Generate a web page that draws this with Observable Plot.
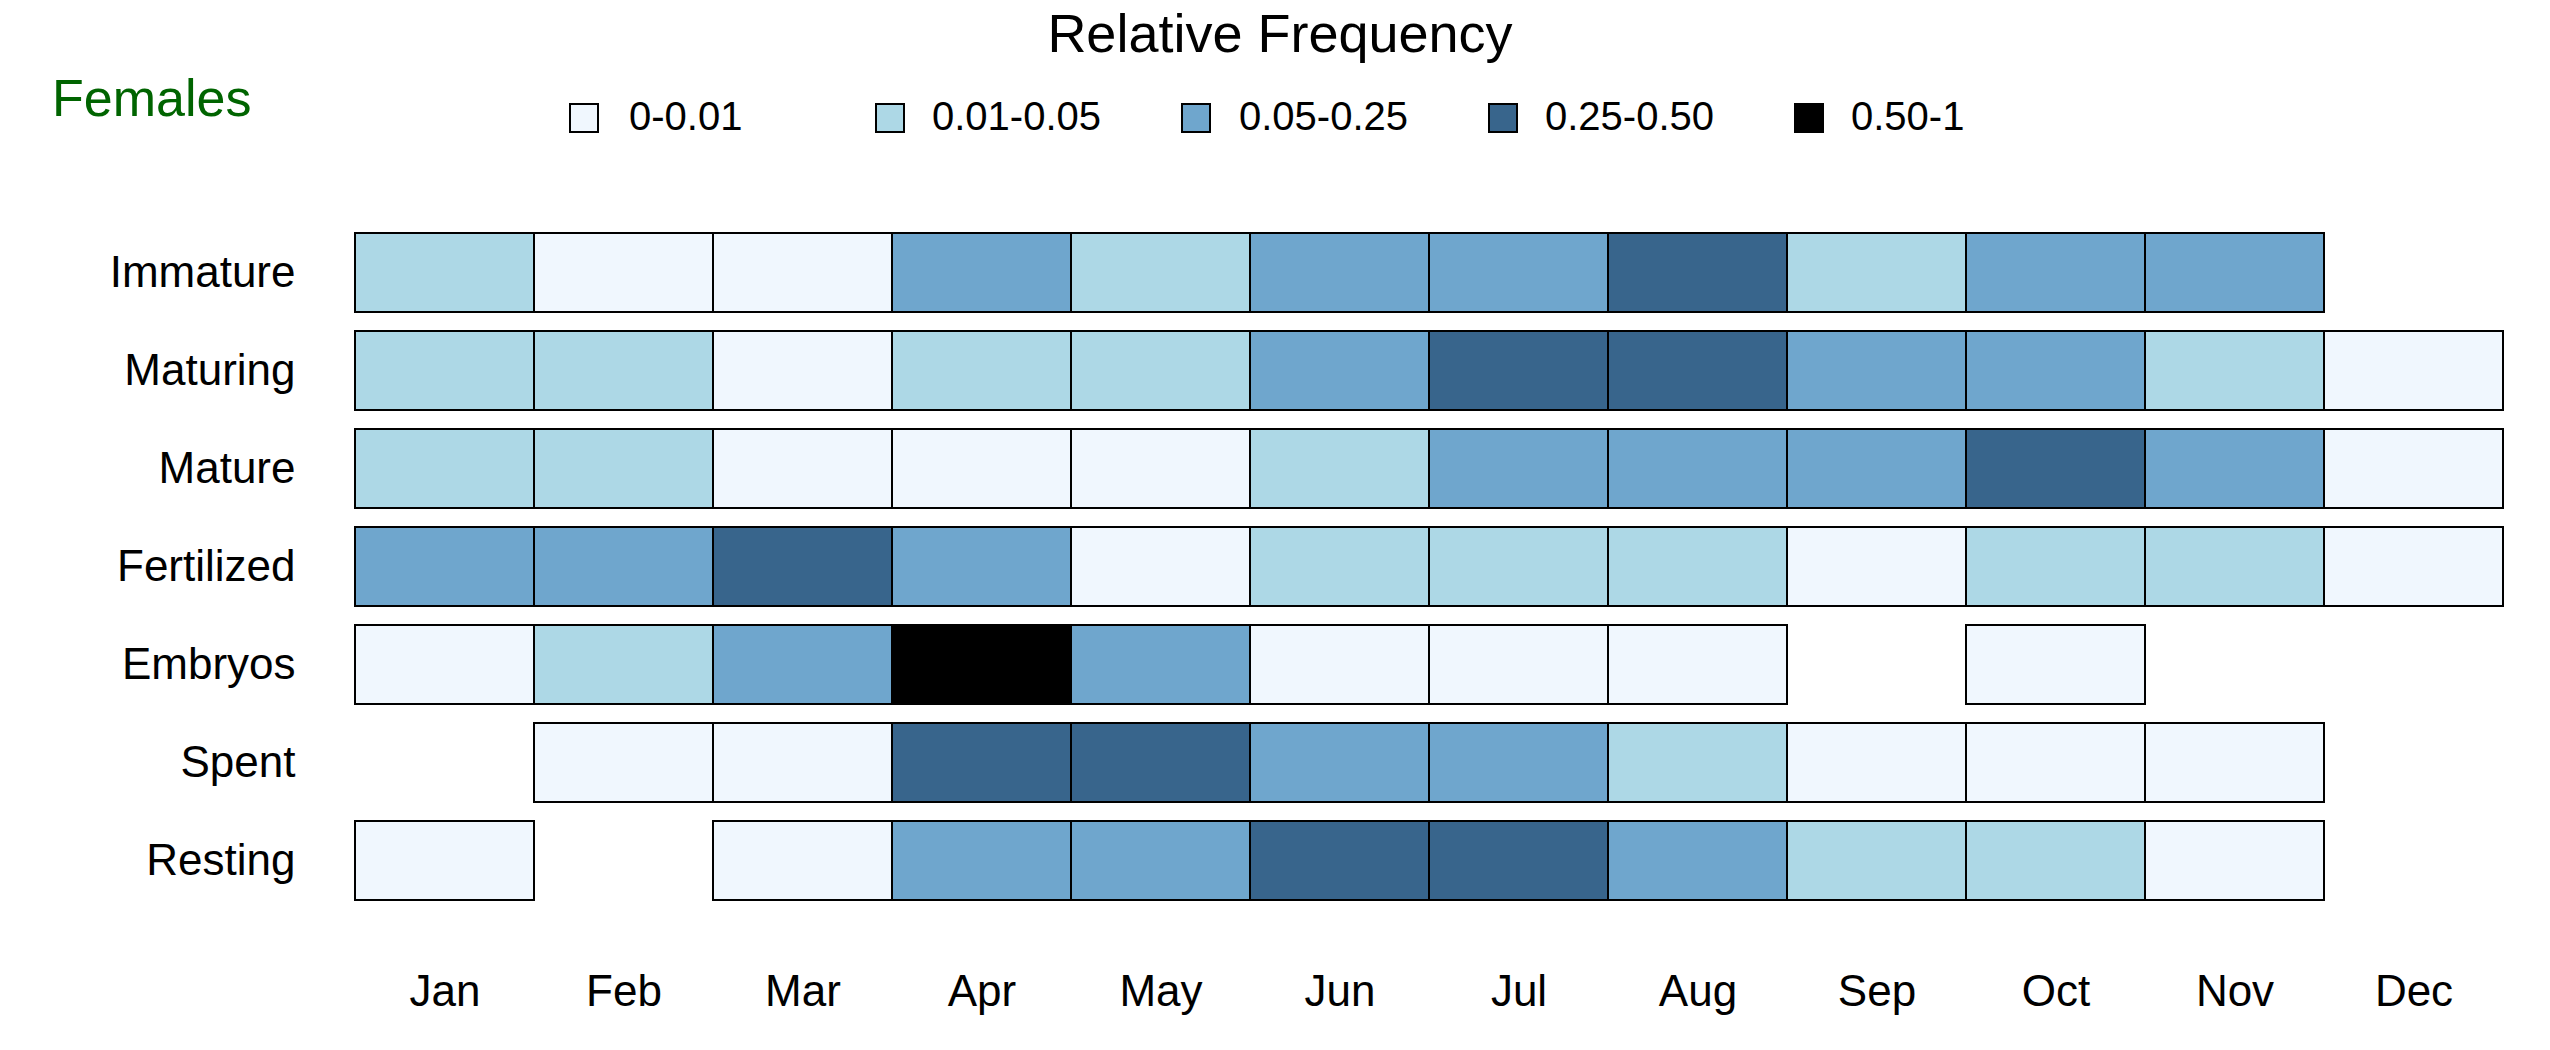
<!DOCTYPE html>
<html><head><meta charset="utf-8">
<script src="https://cdn.jsdelivr.net/npm/d3@7"></script>
<script src="https://cdn.jsdelivr.net/npm/@observablehq/plot@0.6"></script>
<style>
body{margin:0;background:#fff;font-family:"Liberation Sans",Arial,sans-serif;}
#wrap{position:relative;width:2550px;height:1050px;}
.abs{position:absolute;white-space:nowrap;}
.sw{position:absolute;width:30px;height:30px;border:2px solid #000;box-sizing:border-box;}
</style></head><body>
<div id="wrap"></div>
<script>
const months = ["Jan","Feb","Mar","Apr","May","Jun","Jul","Aug","Sep","Oct","Nov","Dec"];
const stages = ["Immature","Maturing","Mature","Fertilized","Embryos","Spent","Resting"];
const classLabels = ["0-0.01","0.01-0.05","0.05-0.25","0.25-0.50","0.50-1"];
const classColors = ["#f0f7fe","#add8e6","#6fa6cd","#38658c","#000000"];
const immature   = [1,0,0,2,1,2,2,3,1,2,2,null];
const maturing   = [1,1,0,1,1,2,3,3,2,2,1,0];
const mature     = [1,1,0,0,0,1,2,2,2,3,2,0];
const fertilized = [2,2,3,2,0,1,1,1,0,1,1,0];
const embryos    = [0,1,2,4,2,0,0,0,null,0,null,null];
const spent      = [null,0,0,3,3,2,2,1,0,0,0,null];
const resting    = [0,null,0,2,2,3,3,2,1,1,0,null];
const rows = [immature,maturing,mature,fertilized,embryos,spent,resting];

const data = [];
rows.forEach((r,i)=>r.forEach((v,j)=>{ if(v!==null) data.push({stage:stages[i],month:months[j],cls:classLabels[v]}); }));

const chart = Plot.plot({
  width:2550, height:1050,
  marginTop:230, marginBottom:146, marginLeft:350, marginRight:42,
  style:{fontFamily:"Liberation Sans, Arial, sans-serif", fontSize:"44px", color:"#000"},
  x:{domain:months, padding:0, label:null, tickSize:0, tickPadding:70},
  y:{domain:stages, paddingInner:0.19, paddingOuter:0, label:null, tickSize:0, tickPadding:55},
  color:{domain:classLabels, range:classColors},
  marks:[
    Plot.cell(data,{x:"month",y:"stage",fill:"cls",stroke:"#000",strokeWidth:2,inset:0})
  ]
});
const wrap = document.getElementById("wrap");
wrap.appendChild(chart);

function add(html, style){ const d=document.createElement("div"); d.className="abs"; d.innerHTML=html; Object.assign(d.style,style); wrap.appendChild(d); return d; }
add("Relative Frequency",{left:"0",width:"2560px",textAlign:"center",top:"2px",fontSize:"54px"});
add("Females",{left:"52px",top:"68px",fontSize:"52px",color:"#006400"});
const sx=[569,875,1181,1488,1794], tx=[629,932,1239,1545,1851];
classLabels.forEach((l,i)=>{
  const s=document.createElement("div"); s.className="sw"; s.style.left=sx[i]+"px"; s.style.top="103px"; s.style.background=classColors[i]; wrap.appendChild(s);
  add(l,{left:tx[i]+"px",top:"94px",fontSize:"40px"});
});
</script>
</body></html>
